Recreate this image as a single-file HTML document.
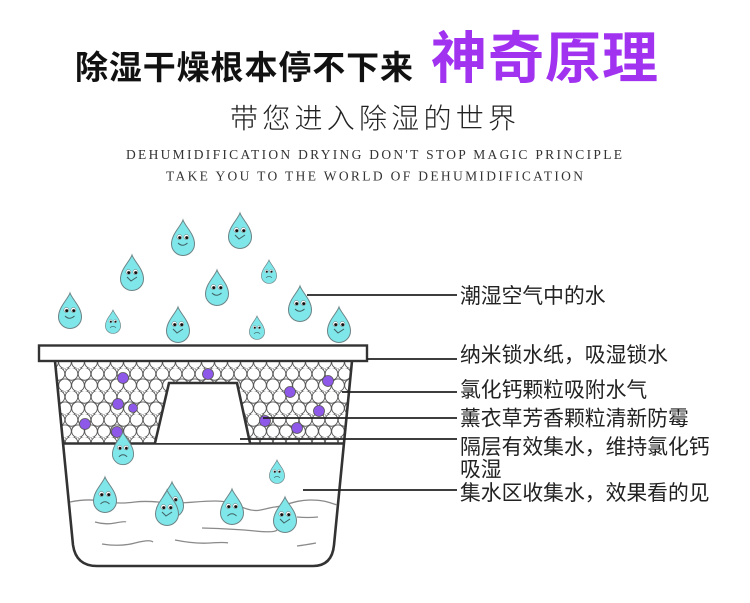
<!DOCTYPE html>
<html><head><meta charset="utf-8"><style>
html,body{margin:0;padding:0;background:#fff;width:750px;height:603px;overflow:hidden}
svg{display:block}
.cjk{font-family:"Liberation Sans","Noto Sans CJK SC",sans-serif}
.en{font-family:"Liberation Serif",serif;fill:#333}
.lbl{font-family:"Liberation Sans","Noto Sans CJK SC",sans-serif;font-size:20.8px;fill:#222}
</style></head><body>
<svg width="750" height="603" viewBox="0 0 750 603" xmlns="http://www.w3.org/2000/svg">
<defs>
  <pattern id="balls" patternUnits="userSpaceOnUse" width="26" height="23">
    <g fill="#fff" stroke="#555" stroke-width="0.9">
      <circle cx="6.5" cy="5.9" r="6.3"/><circle cx="19.5" cy="5.9" r="6.3"/>
      <circle cx="0" cy="17.2" r="6.3"/><circle cx="13" cy="17.2" r="6.3"/><circle cx="26" cy="17.2" r="6.3"/>
    </g>
  </pattern>
  <pattern id="balls2" patternUnits="userSpaceOnUse" width="26" height="23" patternTransform="translate(6,4)">
    <g fill="#fff" stroke="#888" stroke-width="0.7">
      <circle cx="6.5" cy="5.9" r="6.3"/><circle cx="19.5" cy="5.9" r="6.3"/>
      <circle cx="0" cy="17.2" r="6.3"/><circle cx="13" cy="17.2" r="6.3"/><circle cx="26" cy="17.2" r="6.3"/>
    </g>
  </pattern>
  <clipPath id="bc"><polygon points="56,361 64,443 155,443 169,383 237,383 250,443 343,443 352,361"/></clipPath>
  <g id="body"><path d="M0,0 C2,6 11.5,14 11.5,24 A11.5,11.5 0 0 1 -11.5,24 C-11.5,14 -2,6 0,0 Z" fill="#7fe6ea" stroke="#6b8486" stroke-width="1"/>
    <circle cx="-3.6" cy="17" r="2.5" fill="#fff" stroke="#555" stroke-width=".4"/>
    <circle cx="3.4" cy="17" r="2.5" fill="#fff" stroke="#555" stroke-width=".4"/>
    <circle cx="-3.3" cy="17.6" r="1.5" fill="#111"/>
    <circle cx="3.7" cy="17.6" r="1.5" fill="#111"/></g>
  <g id="dh"><use href="#body"/><path d="M-5,23 Q-0.5,27.5 4.5,23" fill="none" stroke="#3f5f61" stroke-width="1"/></g>
  <g id="dv"><use href="#body"/><path d="M-5,22 L-1,26 L5,22" fill="none" stroke="#3f5f61" stroke-width="1"/></g>
  <g id="ds"><use href="#body"/><path d="M-4.5,27 Q0,22.5 4.5,27" fill="none" stroke="#3f5f61" stroke-width="1"/></g>
</defs>

<!-- Titles -->
<text class="cjk" x="75" y="79" font-size="33" font-weight="bold" fill="#111" textLength="338" lengthAdjust="spacing">除湿干燥根本停不下来</text>
<text class="cjk" x="431" y="78" font-size="56" font-weight="bold" fill="#a032f0" textLength="227" lengthAdjust="spacing">神奇原理</text>
<text class="cjk" x="230" y="128" font-size="28" font-weight="300" fill="#222" textLength="286" lengthAdjust="spacing">带您进入除湿的世界</text>
<text class="en" x="126" y="159" font-size="13.5" textLength="496" lengthAdjust="spacing">DEHUMIDIFICATION DRYING DON'T STOP MAGIC PRINCIPLE</text>
<text class="en" x="166" y="180.5" font-size="13.5" textLength="417" lengthAdjust="spacing">TAKE YOU TO THE WORLD OF DEHUMIDIFICATION</text>

<!-- upper drops -->
<use href="#dh" transform="translate(183,220)"/>
<use href="#dv" transform="translate(240,213)"/>
<use href="#dv" transform="translate(132,255)"/>
<use href="#ds" transform="translate(269,260) scale(0.66)"/>
<use href="#dh" transform="translate(217,270)"/>
<use href="#dh" transform="translate(70,293)"/>
<use href="#ds" transform="translate(113,310) scale(0.66)"/>
<use href="#dv" transform="translate(178,307)"/>
<use href="#ds" transform="translate(257,316) scale(0.66)"/>
<use href="#dh" transform="translate(300,286)"/>
<use href="#dv" transform="translate(339,307)"/>

<!-- balls region -->
<g clip-path="url(#bc)">
  <rect x="50" y="355" width="310" height="95" fill="url(#balls2)"/>
  <rect x="50" y="355" width="310" height="95" fill="url(#balls)"/>
</g>
<g fill="#8e58e8" stroke="#555" stroke-width="0.8">
  <circle cx="123" cy="378" r="5.5"/><circle cx="208" cy="374" r="5.5"/><circle cx="328" cy="381" r="5.5"/>
  <circle cx="290" cy="392" r="5.5"/><circle cx="118" cy="404" r="5.5"/><circle cx="133" cy="408" r="4.5"/>
  <circle cx="319" cy="411" r="5.5"/><circle cx="85" cy="424" r="5.5"/><circle cx="265" cy="421" r="5.5"/>
  <circle cx="117" cy="432" r="5.5"/><circle cx="297" cy="428" r="5.5"/>
</g>

<!-- container -->
<path d="M55,361 L73,545 Q76,566 97,566 L313,566 Q332,566 334,545 L352,361" fill="none" stroke="#333" stroke-width="2.6"/>
<line x1="63" y1="443.5" x2="344" y2="443.5" stroke="#333" stroke-width="2.6"/>
<polyline points="155,443 169,383 237,383 250,443" fill="#fff" stroke="#333" stroke-width="2.6"/>
<rect x="39" y="345.5" width="328" height="15.5" fill="#fff" stroke="#333" stroke-width="2.4"/>

<!-- water waves -->
<g fill="none" stroke="#8a8a8a" stroke-width="1.3">
  <path d="M70,502 C80,500 90,499 100,501 S120,504 135,502 S160,503 175,503 S200,501 215,501 S235,505 247,509 S265,508 275,507 S295,500 310,500 S330,503 337,505"/>
  <path d="M95,522 Q105,525 115,523 T126,522"/>
  <path d="M102,544 Q120,547 135,543 T153,542"/>
  <path d="M175,540 Q195,544 210,543 T228,543"/>
  <path d="M202,528 Q235,529 255,531 T277,530"/>
  <path d="M297,517 Q308,518 318,517"/>
  <path d="M297,546 Q305,545 316,543"/>
</g>

<!-- lower drops -->
<use href="#ds" transform="translate(123,432) scale(0.92)"/>
<use href="#ds" transform="translate(277,460) scale(0.66)"/>
<use href="#ds" transform="translate(105,477)"/>
<use href="#dh" transform="translate(172,482)"/>
<use href="#dv" transform="translate(167,490)"/>
<use href="#ds" transform="translate(232,489)"/>
<use href="#dv" transform="translate(285,497)"/>

<!-- label lines -->
<g stroke="#222" stroke-width="1.8">
  <line x1="307" y1="295" x2="457" y2="295"/>
  <line x1="367" y1="359" x2="457" y2="359"/>
  <line x1="342" y1="392" x2="457" y2="392"/>
  <line x1="263" y1="418" x2="457" y2="418"/>
  <line x1="240" y1="439" x2="457" y2="439"/>
  <line x1="303" y1="490" x2="457" y2="490"/>
</g>

<!-- labels -->
<text class="lbl" x="460" y="303">潮湿空气中的水</text>
<text class="lbl" x="460" y="362">纳米锁水纸，吸湿锁水</text>
<text class="lbl" x="460" y="397">氯化钙颗粒吸附水气</text>
<text class="lbl" x="460" y="425.5">薰衣草芳香颗粒清新防霉</text>
<text class="lbl" x="460" y="454">隔层有效集水，维持氯化钙</text>
<text class="lbl" x="460" y="476.5">吸湿</text>
<text class="lbl" x="460" y="500">集水区收集水，效果看的见</text>
</svg>
</body></html>
